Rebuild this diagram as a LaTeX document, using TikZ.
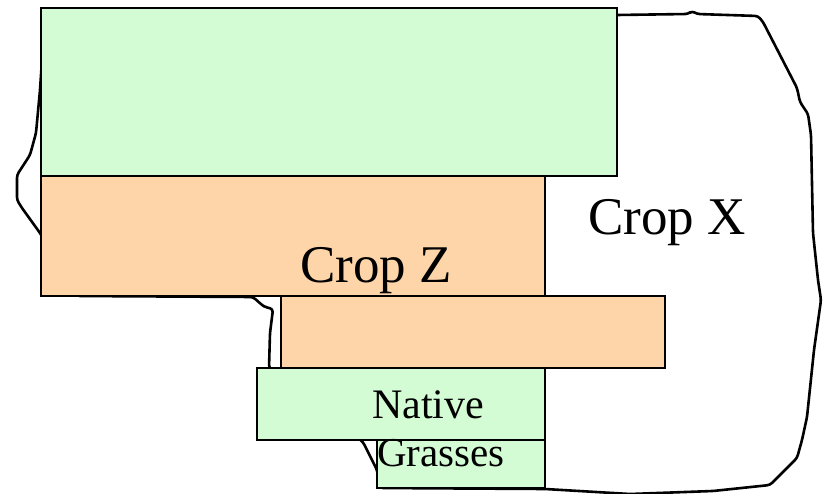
\documentclass[tikz,border=0pt]{standalone}
\usepackage{fontspec}
\setmainfont{Liberation Serif}
\definecolor{plotgreen}{RGB}{212,252,212}
\definecolor{plotorange}{RGB}{253,213,168}
\begin{document}
\begin{tikzpicture}[x=1pt,y=-1pt,
  plot/.style={draw=black,line width=1.8pt,anchor=north west,inner sep=0pt,outer sep=0pt},
  greenplot/.style={plot,fill=plotgreen},
  orangeplot/.style={plot,fill=plotorange},
  boundary/.style={draw=black,line width=2.6pt,line join=round,rounded corners=3pt},
  lbl/.style={inner sep=0pt,anchor=base west}]
\useasboundingbox (0,0) rectangle (824,494);
% farm boundary
\draw[boundary] (45,15) -- (617,15) -- (688,14) -- (692,11) -- (697,14) -- (758,16)
  -- (763,22) -- (797,88) -- (800,102) -- (808,114) -- (811,135) -- (813,233)
  -- (818,280) -- (821,300) -- (814,350) -- (807,417) -- (802,440) -- (797,458)
  -- (770,485) -- (713,491) -- (630,494) -- (545,489) -- (380,488) -- (377,470)
  -- (363,442) -- (269,368) -- (270,333) -- (273,309) -- (265,307) -- (262,305)
  -- (253,297) -- (77,296) -- (40,233) -- (22,208) -- (17,200) -- (17,175)
  -- (30,155) -- (36,133) -- (40,90) -- cycle;
% plots
\node[greenplot,minimum width=576pt,minimum height=168pt] (g1) at (41,8) {};
\node[orangeplot,minimum width=504pt,minimum height=120pt] (o1) at (41,176) {};
\node[orangeplot,minimum width=384pt,minimum height=72pt] (o2) at (281,296) {};
\node[greenplot,minimum width=288pt,minimum height=72pt] (g2) at (257,368) {};
\node[greenplot,minimum width=168pt,minimum height=48pt] (g3) at (377,440) {};
% labels
\node[lbl,font=\fontsize{53}{57}\selectfont] (cx) at (588,235) {Crop X};
\node[lbl,font=\fontsize{53}{57}\selectfont] (cz) at (300,283) {Crop Z};
\node[lbl,font=\fontsize{42}{46}\selectfont] (nat) at (372,418) {Native};
\node[lbl,font=\fontsize{41}{45}\selectfont] (gra) at (377,466) {Grasses};
\end{tikzpicture}
\end{document}
